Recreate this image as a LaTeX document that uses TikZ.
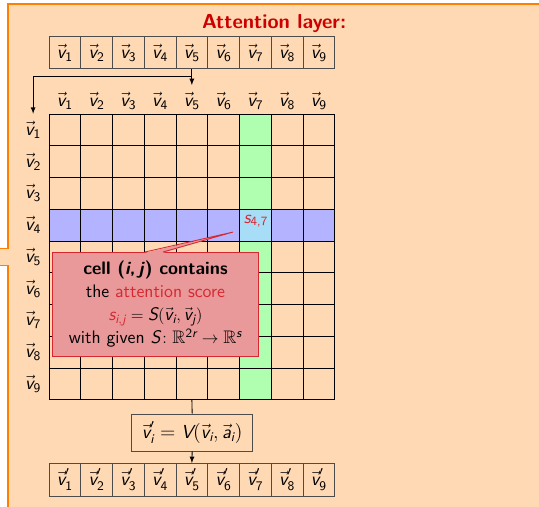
\documentclass[tikz,border=0pt]{standalone}
\usepackage{amsmath,amssymb}
\usetikzlibrary{arrows,positioning}

\definecolor{calloutfill}{RGB}{255,217,179}
\definecolor{calloutline}{RGB}{255,128,0}
\definecolor{titlered}{RGB}{204,0,0}
\definecolor{rowblue}{RGB}{179,179,255}
\definecolor{colgreen}{RGB}{176,255,176}
\definecolor{crossblue}{RGB}{168,221,248}
\definecolor{notefill}{RGB}{233,153,154}
\definecolor{noteline}{RGB}{214,40,48}

\newcommand{\sfi}[1]{\textit{#1}}
\newcommand{\vecv}[1]{\vec{\sfi{v}}_{\text{#1}}}
\newcommand{\vecw}[1]{\vec{\sfi{v}}'_{\text{#1}}}

\tikzset{
  vecbox/.style={draw=black!70, line width=0.6pt, minimum size=0.8cm, inner sep=0pt,
    font=\sffamily\fontsize{13.5}{16}\selectfont},
  veclabel/.style={minimum size=0.8cm, inner sep=0pt,
    font=\sffamily\fontsize{13.5}{16}\selectfont},
  notebox/.style={draw=noteline, fill=notefill, line width=0.6pt, align=center,
    minimum width=5.17cm, minimum height=2.62cm, inner sep=2pt},
  >=latex
}

\begin{document}
\begin{tikzpicture}[x=0.8cm,y=0.8cm,font=\sffamily\fontsize{13}{16.5}\selectfont]
    \useasboundingbox (-1.543,-12.346) rectangle (15.433,3.591);
    \clip (-1.543,-12.346) rectangle (15.433,3.591);

    \filldraw[fill=calloutfill, draw=calloutline, line width=0.8pt]
        (-1.291,3.465) -- (16,3.465) -- (16,-13) -- (-1.291,-13) -- (-1.291,-4.76)
        -- (-2,-4.76) -- (-2,-4.24) -- (-1.291,-4.24) -- cycle;

    \node[font=\sffamily\bfseries\fontsize{14.5}{17}\selectfont, text=titlered] (title) at (7.09,2.835) {Attention layer:};

    \foreach \i in {1,...,9} {
        \node[vecbox] (in\i) at (\i-0.5,1.936) {$\vecv{\i}$};
        \node[veclabel] (hd\i) at (\i-0.5,0.4) {$\vecv{\i}$};
        \node[veclabel] (rw\i) at (-0.5,0.5-\i) {$\vecv{\i}$};
    }

    \fill[rowblue] (0,-3) rectangle (9,-4);
    \fill[colgreen] (6,0) rectangle (7,-9);
    \fill[crossblue] (6,-3) rectangle (7,-4);
    \draw[black, line width=0.7pt, step=1] (0,0) grid (9,-9);

    \node[text=noteline] (s47) at (6.52,-3.37) {$\sfi{s}_{\text{4,7}}$};

    \coordinate (split) at (4.5,1.2);
    \draw[->, line width=0.6pt] (in5.south) -- (hd5.north);
    \draw[->, line width=0.6pt] (split) -| (rw1.north);

    \node[notebox] (note) at (3.354,-5.984) {%
        \textbf{cell (\textit{i},\,\textit{j}) contains}\\
        the \textcolor{noteline}{attention score}\\
        $\textcolor{noteline}{\sfi{s}_{\sfi{i},\sfi{j}}} = \sfi{S}(\vec{\sfi{v}}_{\sfi{i}},\vec{\sfi{v}}_{\sfi{j}})$\\
        with given $\sfi{S}\colon \mathbb{R}^{\text{2}\sfi{r}}\to\mathbb{R}^{\sfi{s}}$};
    \coordinate (tip) at (5.795,-3.717);
    \coordinate (wl) at (3.02,-4.346);
    \coordinate (wr) at (3.59,-4.346);
    \fill[notefill] ([yshift=-0.6pt]wl) -- (tip) -- ([yshift=-0.6pt]wr) -- cycle;
    \draw[noteline, line width=0.6pt] (wl) -- (tip) -- (wr);

    \coordinate (gridbot) at (4.5,-9);
    \node[vecbox, minimum width=3.06cm, minimum height=0.93cm] (fm) at (4.51,-10.03)
        {$\vec{\sfi{v}}'_{\sfi{i}} = \sfi{V}(\vec{\sfi{v}}_{\sfi{i}},\vec{\sfi{a}}_{\sfi{i}})$};
    \foreach \i in {1,...,9} {
        \node[vecbox, minimum height=0.82cm] (out\i) at (\i-0.5,-11.52) {$\vecw{\i}$};
    }
    \draw[line width=0.6pt] (gridbot) -- (fm.north);
    \draw[->, line width=0.6pt] (fm.south) -- (out5.north);
\end{tikzpicture}
\end{document}
